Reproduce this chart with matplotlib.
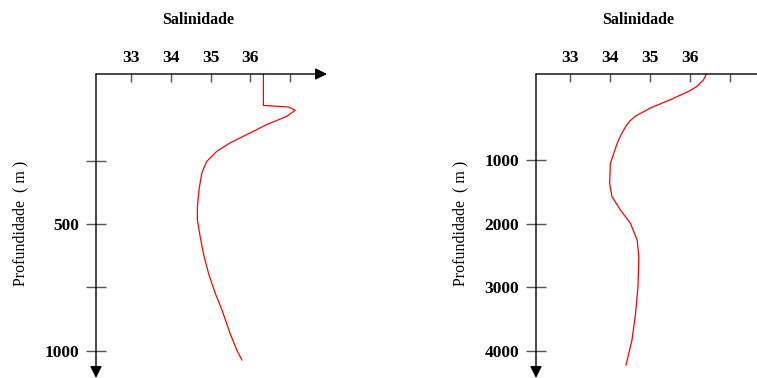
import matplotlib
matplotlib.use("Agg")
import matplotlib.pyplot as plt

# Perfil 1 (ate ~1000 m)
prof_1 = [-92, 32, 38, 51, 75, 108, 141, 180, 213, 254, 300, 366, 432, 484, 550, 616, 695,
          774, 840, 931, 997, 1037]
sal_1 = [36.33, 36.33, 36.96, 37.13, 36.92, 36.41, 35.99, 35.49, 35.16, 34.90, 34.78, 34.71,
         34.67, 34.67, 34.74, 34.82, 34.95, 35.12, 35.29, 35.49, 35.66, 35.79]

# Perfil 2 (ate ~4200 m)
prof_2 = [-353, -264, -160, -81, 51, 182, 312, 390, 476, 600, 737, 1052, 1367, 1577, 1787,
          1996, 2259, 2522, 2994, 3412, 3832, 4226]
sal_2 = [36.40, 36.33, 36.17, 35.96, 35.50, 35.00, 34.62, 34.48, 34.38, 34.27, 34.17, 34.00,
         33.98, 34.04, 34.25, 34.50, 34.67, 34.71, 34.69, 34.63, 34.54, 34.39]

x_ticks = [33, 34, 35, 36, 37]
x_labels = ["33", "34", "35", "36", ""]
y_ticks_1 = [250, 500, 750, 1000]
y_labels_1 = ["", "500", "", "1000"]
y_ticks_2 = [1000, 2000, 3000, 4000]
y_labels_2 = ["1000", "2000", "3000", "4000"]

plt.rcParams["font.family"] = ["Liberation Serif", "DejaVu Serif"]

W, H = 757, 378
fig = plt.figure(figsize=(W / 100, H / 100), dpi=100)

def make_axes(x0, x1, y0, y1):
    # pixel box -> figure fraction
    return fig.add_axes([x0 / W, 1 - y1 / H, (x1 - x0) / W, (y1 - y0) / H])

def style(ax, xlim, ylim, prof, sal, yt, yl, width_px):
    ax.plot(sal, prof, color="#ff0000", lw=0.9)
    ax.set_xlim(*xlim)
    ax.set_ylim(*ylim)
    for s in ax.spines.values():
        s.set_visible(False)
    ax.xaxis.tick_top()
    ax.set_xticks(x_ticks)
    ax.set_xticklabels(x_labels, fontweight="bold", fontsize=12.5)
    ax.tick_params(axis="x", direction="in", length=6, width=1, color="#555555", pad=6)
    ax.set_yticks(yt)
    ax.set_yticklabels(yl, fontweight="bold", fontsize=12.5)
    ax.tick_params(axis="y", direction="inout", length=14, width=1, color="#555555", pad=5)
    ax.set_ylabel("Profundidade  ( m )", fontsize=11.5)
    ax.yaxis.set_label_coords(-68 / width_px, 0.51)
    ax.text(102 / width_px, 1.176, "Salinidade", transform=ax.transAxes, ha="center",
            va="center", fontweight="bold", fontsize=11.5)
    arrow = dict(arrowstyle="-|>,head_length=0.7,head_width=0.35", color="black", lw=1,
                 shrinkA=0, shrinkB=0)
    ax.annotate("", xy=(1, 1), xytext=(0, 1), xycoords="axes fraction", arrowprops=arrow)
    ax.annotate("", xy=(0, 0), xytext=(0, 1), xycoords="axes fraction", arrowprops=arrow)

ax1 = make_axes(96, 327, 74, 378)
style(ax1, (32.12, 37.93), (1108, -92), prof_1, sal_1, y_ticks_1, y_labels_1, 231)

# o eixo x do segundo painel passa da borda da figura
ax2 = make_axes(536, 780, 74, 378)
style(ax2, (32.14, 38.24), (4430, -353), prof_2, sal_2, y_ticks_2, y_labels_2, 244)

fig.savefig("out.png", dpi=100)
